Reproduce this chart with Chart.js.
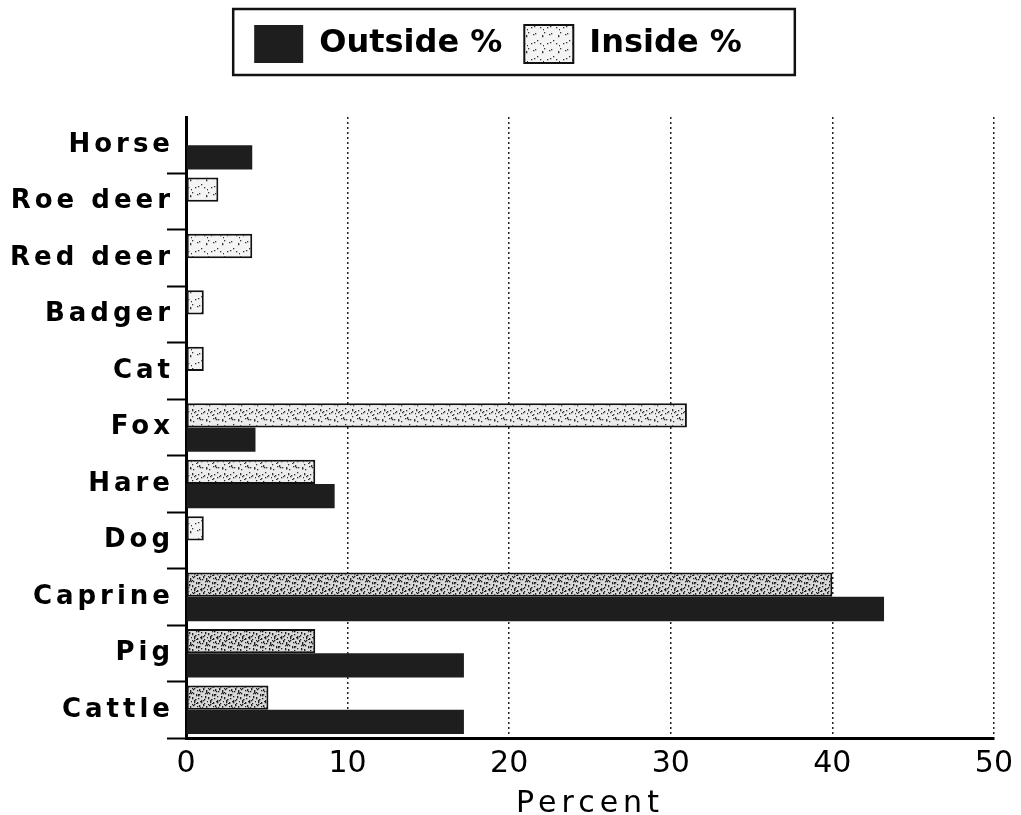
<!DOCTYPE html>
<html><head><meta charset="utf-8">
<script src="https://cdn.jsdelivr.net/npm/chart.js@4.4.1/dist/chart.umd.min.js"></script>
<style>html,body{margin:0;padding:0;background:#fff;}</style>
</head><body>
<canvas id="c" width="1021" height="815"></canvas>
<script>
const categories = ['Horse','Roe deer','Red deer','Badger','Cat','Fox','Hare','Dog','Caprine','Pig','Cattle'];
const outsidePct = [4.1, null, null, null, null, 4.3, 9.2, null, 43.2, 17.2, 17.2];
const insidePct  = [null, 2.0, 4.1, 1.1, 1.1, 31.0, 8.0, 1.1, 40.0, 8.0, 5.1];
const xTickValues = [0, 10, 20, 30, 40, 50];

function makePattern(bg, dots, dotColor) {
  const t = document.createElement('canvas');
  t.width = 16; t.height = 16;
  const g = t.getContext('2d');
  g.fillStyle = bg; g.fillRect(0, 0, 16, 16);
  g.fillStyle = dotColor;
  for (let i = 0; i < dots; i++) {
    const x = (i * 37 + (i * i) % 5) % 16;
    const y = (i * 23 + (i * i * 3) % 7) % 16;
    g.fillRect(x, y, 1.3, 1.3);
  }
  return g.createPattern(t, 'repeat');
}
const lightDots = makePattern('#f4f4f4', 10, '#333');
const midDots = makePattern('#ececec', 22, '#333');
const denseDots = makePattern('#d8d8d8', 46, '#222');
const insideFill = (i) => (i >= 8 ? denseDots : (i === 5 || i === 6 ? midDots : lightDots));

const legendFrame = {
  id: 'legendFrame',
  beforeDraw(chart) {
    const y = chart.scales.y, x = chart.scales.x;
    if (y && !y._ls) {
      const orig = y.drawLabels.bind(y);
      y.drawLabels = function (a) { const c = this.ctx; c.save(); c.letterSpacing = '4px'; orig(a); c.restore(); };
      y._ls = true;
    }
    if (x && !x._ls) {
      const origT = x.drawTitle.bind(x);
      x.drawTitle = function () { const c = this.ctx; c.save(); c.letterSpacing = '5px'; origT(); c.restore(); };
      x._ls = true;
    }
  },
  afterDraw(chart) {
    const hb = chart.legend && chart.legend.legendHitBoxes;
    if (!hb || !hb.length) return;
    let l = Infinity, r = -Infinity, t = Infinity, b = -Infinity;
    hb.forEach(h => { l = Math.min(l, h.left); r = Math.max(r, h.left + h.width); t = Math.min(t, h.top); b = Math.max(b, h.top + h.height); });
    const ctx = chart.ctx;
    ctx.save();
    ctx.strokeStyle = '#111'; ctx.lineWidth = 2.5;
    ctx.strokeRect(l - 21, t - 16, (r - l) + 21 + 53, (b - t) + 28);
    ctx.restore();
  }
};

new Chart(document.getElementById('c'), {
  type: 'bar',
  data: {
    labels: categories,
    datasets: [
      { label: 'Inside %', data: insidePct, backgroundColor: (c) => insideFill(c.dataIndex), borderColor: '#111', borderWidth: 2, borderSkipped: false },
      { label: 'Outside %', data: outsidePct, backgroundColor: '#1e1e1e', borderColor: '#1e1e1e', borderWidth: 0 }
    ]
  },
  options: {
    indexAxis: 'y',
    responsive: false,
    animation: false,
    devicePixelRatio: 1,
    datasets: { bar: { categoryPercentage: 0.86, barPercentage: 1.0 } },
    layout: { padding: { top: 3, right: 25, left: 0, bottom: 0 } },
    plugins: {
      legend: {
        position: 'top',
        reverse: true,
        weight: 2000,
        labels: {
          boxWidth: 49, boxHeight: 38, padding: 22, color: '#000',
          font: { family: 'DejaVu Sans', size: 32, weight: 'bold' }
        }
      },
      title: {
        display: true, text: ' ', position: 'top', weight: 500,
        font: { size: 10 }, padding: { top: 16, bottom: 16 }
      },
      tooltip: { enabled: false }
    },
    scales: {
      x: {
        min: 0, max: 50,
        afterBuildTicks(s) { s.ticks = xTickValues.map(v => ({ value: v })); },
        afterFit(s) { s.height = 77; },
        ticks: { color: '#000', padding: 8, font: { family: 'DejaVu Sans', size: 30 } },
        grid: { drawTicks: false, lineWidth: 1.5, color: (c) => (c.tick && c.tick.value === 0 ? 'rgba(0,0,0,0)' : '#222') },
        border: { color: '#000', width: 3, dash: [2, 3] },
        title: { display: true, text: 'Percent', color: '#000', font: { family: 'DejaVu Sans', size: 30 }, padding: { top: 4, bottom: -7 } }
      },
      y: {
        afterFit(s) { s.width = 186; },
        ticks: { color: '#000', padding: -7, font: { family: 'DejaVu Sans', size: 26, weight: 'bold' } },
        grid: { drawOnChartArea: false, drawTicks: true, tickLength: 19, tickWidth: 2, tickColor: (c) => (c.index === 0 ? 'rgba(0,0,0,0)' : '#000') },
        border: { color: '#000', width: 3 }
      }
    }
  },
  plugins: [legendFrame]
});
</script>
</body></html>
